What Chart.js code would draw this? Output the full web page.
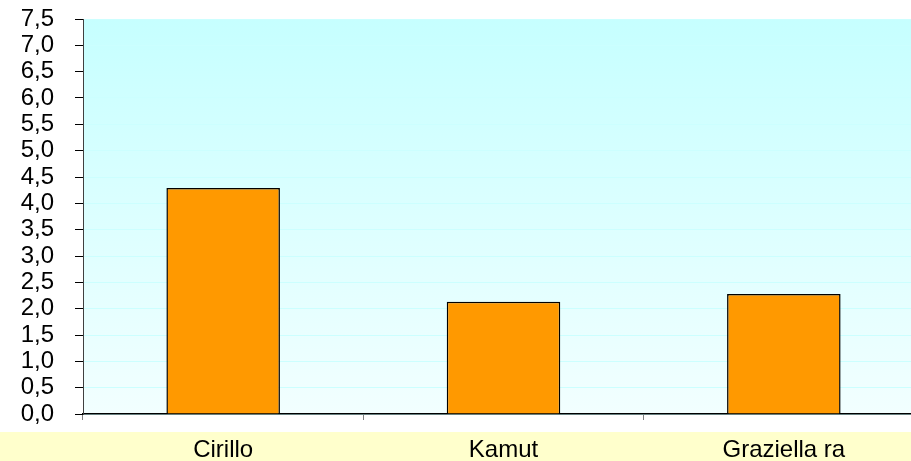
<!DOCTYPE html>
<html>
<head>
<meta charset="utf-8">
<script src="https://cdn.jsdelivr.net/npm/chart.js@4"></script>
<style>
  html, body { margin: 0; padding: 0; background: #fff; overflow: hidden; }
  #wrap { width: 911px; height: 461px; position: relative; overflow: hidden; }
</style>
</head>
<body>
<div id="wrap"><canvas id="BarChart" width="924" height="461"></canvas></div>
<script>
const categories = ["Cirillo", "Kamut", "Graziella ra"]
const values = [4.29, 2.13, 2.28]
const yMin = 0
const yMax = 7.5
const yStep = 0.5

// background: yellow label strip + cyan gradient in plot area
const backdrop = {
	id: "backdrop",
	beforeDraw(chart) {
		const { ctx, chartArea } = chart
		ctx.save()
		ctx.fillStyle = "#ffffcc"
		ctx.fillRect(0, 432, chart.width, chart.height - 432)
		const g = ctx.createLinearGradient(0, chartArea.top, 0, chartArea.bottom)
		g.addColorStop(0, "#c6ffff")
		g.addColorStop(1, "#f2ffff")
		ctx.fillStyle = g
		ctx.fillRect(chartArea.left, chartArea.top, chartArea.right - chartArea.left, chartArea.bottom - chartArea.top)
		ctx.restore()
	},
}

new Chart(document.getElementById("BarChart").getContext("2d"), {
	type: "bar",
	data: {
		labels: categories,
		datasets: [
			{
				data: values,
				backgroundColor: "#ff9900",
				borderColor: "#000000",
				borderWidth: 1.5,
				barPercentage: 0.405,
				categoryPercentage: 1,
			},
		],
	},
	options: {
		responsive: false,
		animation: false,
		layout: { padding: { top: 19, right: 0, left: 0, bottom: 0 } },
		plugins: { legend: { display: false }, tooltip: { enabled: false } },
		scales: {
			x: {
				offset: true,
				afterFit: (scale) => { scale.height = 47 },
				grid: { offset: true, drawOnChartArea: false, drawTicks: true, tickLength: 6, tickColor: "#808080" },
				border: { color: "#000000", width: 1.5 },
				ticks: { color: "#000", padding: 16, font: { family: "Liberation Sans, Arial", size: 24 } },
			},
			y: {
				min: yMin,
				max: yMax,
				afterFit: (scale) => {
					scale.width = 83
					scale.paddingTop = 0
					scale.paddingBottom = 0
				},
				grid: { color: "#ccffff", tickColor: "#000000", tickLength: 8 },
				border: { color: "#404040", width: 1 },
				ticks: {
					stepSize: yStep,
					autoSkip: false,
					padding: 21,
					color: "#000",
					font: { family: "Liberation Sans, Arial", size: 24 },
					callback: (v) => v.toFixed(1).replace(".", ","),
				},
			},
		},
	},
	plugins: [backdrop],
})
</script>
</body>
</html>
